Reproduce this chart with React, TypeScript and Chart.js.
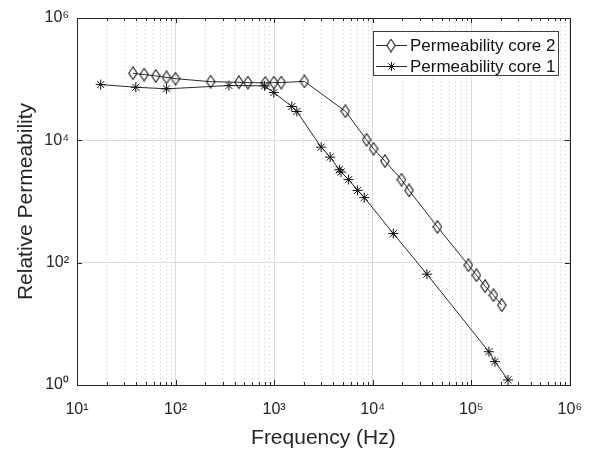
import React, { useEffect, useRef } from "react";
import { Chart, registerables } from "chart.js";

Chart.register(...registerables);

// ---- Data ----
const core2Freq = [37, 48, 63, 81, 100, 227, 440, 542, 813, 993, 1180, 2030, 5280, 8670, 10200, 13300, 19600, 23400, 45400, 93600, 113000, 138000, 168000, 204000];
const core2Perm = [125000, 119000, 113000, 107000, 102000, 91000, 89000, 88000, 87000, 88000, 88000, 92000, 29900, 10200, 7290, 4580, 2280, 1520, 384, 91, 62.5, 41.3, 29.4, 20.2];

const core1Freq = [17.4, 39.5, 81, 348, 800, 993, 1510, 1700, 3000, 3700, 4590, 4780, 5700, 7030, 8220, 16200, 35500, 151000, 174000, 236000];
const core1Perm = [81600, 73800, 69500, 78700, 77800, 60400, 35700, 29600, 7740, 5320, 3310, 3030, 2280, 1520, 1160, 299, 64.9, 3.5, 2.41, 1.21];

const seriesLabels = ["Permeability core 2", "Permeability core 1"];

const xMajorTicks = [10, 100, 1000, 10000, 100000, 1000000];
const xMajorLabels = ["10¹", "10²", "10³", "10⁴", "10⁵", "10⁶"];
const xMinorMultipliers = [2, 3, 4, 5, 6, 7, 8, 9];
const yMajorTicks = [1, 100, 10000, 1000000];
const yMajorLabels = ["10⁰", "10²", "10⁴", "10⁶"];

const FONT = "'Liberation Sans', Arial, Helvetica, sans-serif";
const AXIS_COLOR = "#262626";
const LINE_COLOR = "#2b2b2b";

function makeDiamond(): HTMLCanvasElement {
  const c = document.createElement("canvas");
  c.width = 10;
  c.height = 14;
  const g = c.getContext("2d")!;
  g.strokeStyle = "#1a1a1a";
  g.lineWidth = 1.1;
  g.beginPath();
  g.moveTo(5, 0.8);
  g.lineTo(9.2, 7);
  g.lineTo(5, 13.2);
  g.lineTo(0.8, 7);
  g.closePath();
  g.stroke();
  return c;
}

function drawStar(ctx: CanvasRenderingContext2D, x: number, y: number, r: number) {
  ctx.beginPath();
  for (let k = 0; k < 4; k++) {
    const a = (k * Math.PI) / 4;
    ctx.moveTo(x - Math.cos(a) * r, y - Math.sin(a) * r);
    ctx.lineTo(x + Math.cos(a) * r, y + Math.sin(a) * r);
  }
  ctx.stroke();
}

export default function App() {
  const ref = useRef<HTMLCanvasElement | null>(null);

  useEffect(() => {
    if (!ref.current) return;
    const diamond = makeDiamond();

    const xTickValues: number[] = [];
    xMajorTicks.forEach((m, i) => {
      xTickValues.push(m);
      if (i < xMajorTicks.length - 1) xMinorMultipliers.forEach((k) => xTickValues.push(m * k));
    });
    const isMajorX = (v: number) => xMajorTicks.some((m) => Math.abs(m - v) / m < 1e-9);

    const boxPlugin = {
      id: "boxTicksLegend",
      afterDraw(chart: any) {
        const { ctx, chartArea } = chart;
        const { left, right, top, bottom } = chartArea;
        const xs = chart.scales.x;
        const ys = chart.scales.y;
        ctx.save();
        // ticks
        ctx.strokeStyle = AXIS_COLOR;
        ctx.lineWidth = 1;
        ctx.beginPath();
        xTickValues.forEach((v) => {
          const px = Math.round(xs.getPixelForValue(v)) + 0.5;
          const len = isMajorX(v) ? 5 : 3;
          ctx.moveTo(px, bottom);
          ctx.lineTo(px, bottom - len);
          ctx.moveTo(px, top);
          ctx.lineTo(px, top + len);
        });
        yMajorTicks.forEach((v) => {
          const py = Math.round(ys.getPixelForValue(v)) + 0.5;
          ctx.moveTo(left, py);
          ctx.lineTo(left + 5, py);
          ctx.moveTo(right, py);
          ctx.lineTo(right - 5, py);
        });
        ctx.stroke();
        // box
        ctx.strokeStyle = AXIS_COLOR;
        ctx.strokeRect(Math.round(left) + 0.5, Math.round(top) + 0.5, Math.round(right - left), Math.round(bottom - top));

        // legend
        const lx = 373.5, ly = 31.5, lw = 185, lh = 44;
        ctx.fillStyle = "#ffffff";
        ctx.fillRect(lx, ly, lw, lh);
        ctx.strokeStyle = "#404040";
        ctx.strokeRect(lx, ly, lw, lh);
        const rows = [45, 66];
        ctx.font = `17px ${FONT}`;
        ctx.textBaseline = "middle";
        ctx.textAlign = "left";
        rows.forEach((ry, i) => {
          ctx.strokeStyle = LINE_COLOR;
          ctx.lineWidth = 1;
          ctx.beginPath();
          ctx.moveTo(376, ry + 0.5);
          ctx.lineTo(407, ry + 0.5);
          ctx.stroke();
          if (i === 0) {
            ctx.fillStyle = "#ffffff";
            ctx.fillRect(387, ry - 5, 8, 11);
            ctx.drawImage(diamond, 391 - diamond.width / 2, ry + 0.5 - diamond.height / 2);
          } else {
            ctx.strokeStyle = "#111111";
            drawStar(ctx, 391.5, ry + 0.5, 4.5);
          }
          ctx.fillStyle = "#111111";
          ctx.fillText(seriesLabels[i], 410, ry + 1);
        });
        ctx.restore();
      },
    };

    const chart = new Chart(ref.current, {
      type: "line",
      data: {
        datasets: [
          {
            label: seriesLabels[0],
            data: core2Freq.map((f, i) => ({ x: f, y: core2Perm[i] })),
            borderColor: LINE_COLOR,
            borderWidth: 1,
            backgroundColor: "transparent",
            pointStyle: diamond as any,
            pointRadius: 5,
            pointBorderColor: LINE_COLOR,
            pointBackgroundColor: "transparent",
            tension: 0,
          },
          {
            label: seriesLabels[1],
            data: core1Freq.map((f, i) => ({ x: f, y: core1Perm[i] })),
            borderColor: LINE_COLOR,
            borderWidth: 1,
            backgroundColor: "transparent",
            pointStyle: "star",
            pointRadius: 5,
            pointBorderWidth: 1,
            pointBorderColor: "#111111",
            pointBackgroundColor: "transparent",
            tension: 0,
          },
        ],
      },
      options: {
        animation: false,
        responsive: false,
        events: [],
        clip: false as any,
        layout: { padding: { top: 18, right: 26, left: 0, bottom: 0 } },
        plugins: {
          legend: { display: false },
          tooltip: { enabled: false },
        },
        scales: {
          x: {
            type: "logarithmic",
            min: 10,
            max: 1000000,
            afterBuildTicks: (scale: any) => {
              scale.ticks = xTickValues.map((v) => ({ value: v, major: isMajorX(v) }));
            },
            afterFit: (scale: any) => {
              scale.height = 66;
            },
            ticks: {
              autoSkip: false,
              maxRotation: 0,
              minRotation: 0,
              padding: 15,
              color: AXIS_COLOR,
              font: { family: FONT, size: 16 },
              callback: (value: any) => {
                const idx = xMajorTicks.findIndex((m) => Math.abs(m - Number(value)) / m < 1e-9);
                return idx >= 0 ? xMajorLabels[idx] : "";
              },
            },
            grid: {
              drawTicks: false,
              color: (c: any) => (c.tick && isMajorX(c.tick.value) ? "#dcdcdc" : "#cccccc"),
              lineWidth: 1,
            },
            border: {
              display: false,
              dash: (c: any) => (c.tick && isMajorX(c.tick.value) ? [] : [1, 3]),
            } as any,
            title: {
              display: true,
              text: "Frequency (Hz)",
              color: AXIS_COLOR,
              font: { family: FONT, size: 21 },
              padding: { top: 0, bottom: 0 },
            },
          },
          y: {
            type: "logarithmic",
            min: 1,
            max: 1000000,
            afterBuildTicks: (scale: any) => {
              scale.ticks = yMajorTicks.map((v) => ({ value: v, major: true }));
            },
            afterFit: (scale: any) => {
              scale.width = 77;
            },
            ticks: {
              padding: 8,
              color: AXIS_COLOR,
              font: { family: FONT, size: 16 },
              callback: (value: any) => {
                const idx = yMajorTicks.findIndex((m) => Math.abs(m - Number(value)) / m < 1e-9);
                return idx >= 0 ? yMajorLabels[idx] : "";
              },
            },
            grid: {
              drawTicks: false,
              color: "#dcdcdc",
              lineWidth: 1,
            },
            border: { display: false },
            title: {
              display: true,
              text: "Relative Permeability",
              color: AXIS_COLOR,
              font: { family: FONT, size: 21 },
              padding: { top: 14, bottom: 0 },
            },
          },
        },
      },
      plugins: [boxPlugin],
    });

    return () => chart.destroy();
  }, []);

  return (
    <div style={{ position: "fixed", left: 0, top: 0, width: 597, height: 451, background: "#ffffff" }}>
      <canvas ref={ref} width={597} height={451} style={{ display: "block" }} />
    </div>
  );
}
